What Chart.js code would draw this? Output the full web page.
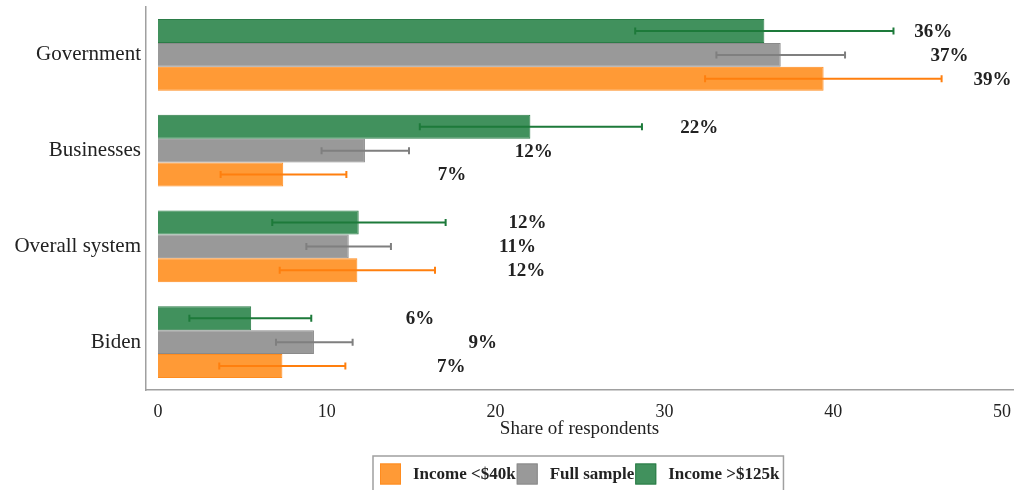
<!DOCTYPE html>
<html>
<head>
<meta charset="utf-8">
<script src="https://cdn.jsdelivr.net/npm/chart.js@4/dist/chart.umd.min.js"></script>
<style>
  html, body { margin: 0; padding: 0; background: #fff; }
  #wrap { width: 1021px; height: 490px; }
</style>
</head>
<body>
<div id="wrap"><canvas id="grafico" width="1021" height="490"></canvas></div>
<script>
// ===== DADOS =====
const categorias = ["Government", "Businesses", "Overall system", "Biden"];

const rendaBaixa = [39.43, 7.42, 11.81, 7.37];
const rendaBaixaMin = [32.41, 3.71, 7.21, 3.63];
const rendaBaixaMax = [46.42, 11.16, 16.41, 11.10];

const amostra = [36.89, 12.26, 11.30, 9.24];
const amostraMin = [33.08, 9.69, 8.79, 6.99];
const amostraMax = [40.70, 14.87, 13.80, 11.53];

const rendaAlta = [35.92, 22.06, 11.89, 5.52];
const rendaAltaMin = [28.27, 15.51, 6.77, 1.86];
const rendaAltaMax = [43.57, 28.67, 17.04, 9.08];

const ticksX = [0, 10, 20, 30, 40, 50];

// ===== ESTILO =====
const SERIF = "'Liberation Serif', 'DejaVu Serif', serif";
const OFFSET_ROTULO = 10; // rótulo centrado em valor + 10

const series = [
  { label: "Income >$125k", data: rendaAlta, min: rendaAltaMin, max: rendaAltaMax,
    bg: "#41915d", borda: "#2b7c47", erro: "#1d7a3a" },
  { label: "Full sample", data: amostra, min: amostraMin, max: amostraMax,
    bg: "#999999", borda: "#8a8a8a", erro: "#7f7f7f" },
  { label: "Income <$40k", data: rendaBaixa, min: rendaBaixaMin, max: rendaBaixaMax,
    bg: "#ff9a36", borda: "#ff8c1f", erro: "#ff7f0e" }
];

// ===== PLUGIN: barras de erro + rótulos =====
const errosERotulos = {
  id: "errosERotulos",
  afterDatasetsDraw(chart) {
    const ctx = chart.ctx;
    const x = chart.scales.x;
    series.forEach((s, d) => {
      const meta = chart.getDatasetMeta(d);
      meta.data.forEach((bar, i) => {
        const y = bar.y;
        const x1 = x.getPixelForValue(s.min[i]);
        const x2 = x.getPixelForValue(s.max[i]);
        ctx.save();
        ctx.strokeStyle = s.erro;
        ctx.lineWidth = 2;
        ctx.beginPath();
        ctx.moveTo(x1, y); ctx.lineTo(x2, y);
        ctx.moveTo(x1, y - 3.5); ctx.lineTo(x1, y + 3.5);
        ctx.moveTo(x2, y - 3.5); ctx.lineTo(x2, y + 3.5);
        ctx.stroke();

        ctx.fillStyle = "#222";
        ctx.font = "bold 19px " + SERIF;
        ctx.textAlign = "center";
        ctx.textBaseline = "middle";
        ctx.fillText(Math.round(s.data[i]) + "%", x.getPixelForValue(s.data[i] + OFFSET_ROTULO), y + 1);
        ctx.restore();
      });
    });
  },
  afterDraw(chart) {
    // legenda em ordem inversa, dentro de uma moldura
    const ctx = chart.ctx;
    ctx.save();
    ctx.font = "bold 17px " + SERIF;
    ctx.textBaseline = "middle";
    let px = 380;
    const cy = 474;
    [...series].reverse().forEach(s => {
      ctx.fillStyle = s.bg;
      ctx.fillRect(px, cy - 10.5, 21, 21);
      ctx.strokeStyle = s.borda;
      ctx.lineWidth = 1;
      ctx.strokeRect(px + 0.5, cy - 10, 20, 20);
      ctx.fillStyle = "#222";
      ctx.fillText(s.label, px + 33, cy + 1);
      px += 33 + ctx.measureText(s.label).width + 1;
    });
    ctx.strokeStyle = "#a0a0a0";
    ctx.lineWidth = 1.5;
    ctx.strokeRect(373, 456, px + 3 - 373, 50);
    ctx.restore();
  }
};

// ===== GRÁFICO =====
new Chart(document.getElementById("grafico"), {
  type: "bar",
  data: {
    labels: categorias,
    datasets: series.map(s => ({
      label: s.label,
      data: s.data,
      backgroundColor: s.bg,
      borderColor: s.borda,
      borderWidth: 1
    }))
  },
  options: {
    indexAxis: "y",
    responsive: false,
    animation: false,
    categoryPercentage: 0.75,
    barPercentage: 1,
    layout: { padding: { top: 7, right: 8, bottom: 50, left: 0 } },
    plugins: { legend: { display: false }, tooltip: { enabled: false } },
    scales: {
      x: {
        min: -0.71,
        max: 50.65,
        afterBuildTicks: sc => { sc.ticks = ticksX.map(v => ({ value: v })); },
        afterFit: sc => { sc.height = 50; sc.paddingLeft = 0; sc.paddingRight = 0; },
        grid: { display: false, drawTicks: false },
        border: { display: true, color: "#a0a0a0", width: 1.5 },
        ticks: { color: "#222", padding: 11, font: { family: SERIF, size: 18 } },
        title: {
          display: true,
          text: "Share of respondents",
          color: "#222",
          padding: 0,
          font: { family: SERIF, size: 19 }
        }
      },
      y: {
        afterFit: sc => { sc.width = 146; sc.paddingTop = 0; sc.paddingBottom = 0; },
        grid: { display: false, drawTicks: false },
        border: { display: true, color: "#a0a0a0", width: 1.5 },
        ticks: { color: "#222", padding: 5, font: { family: SERIF, size: 21 } }
      }
    }
  },
  plugins: [errosERotulos]
});
</script>
</body>
</html>
